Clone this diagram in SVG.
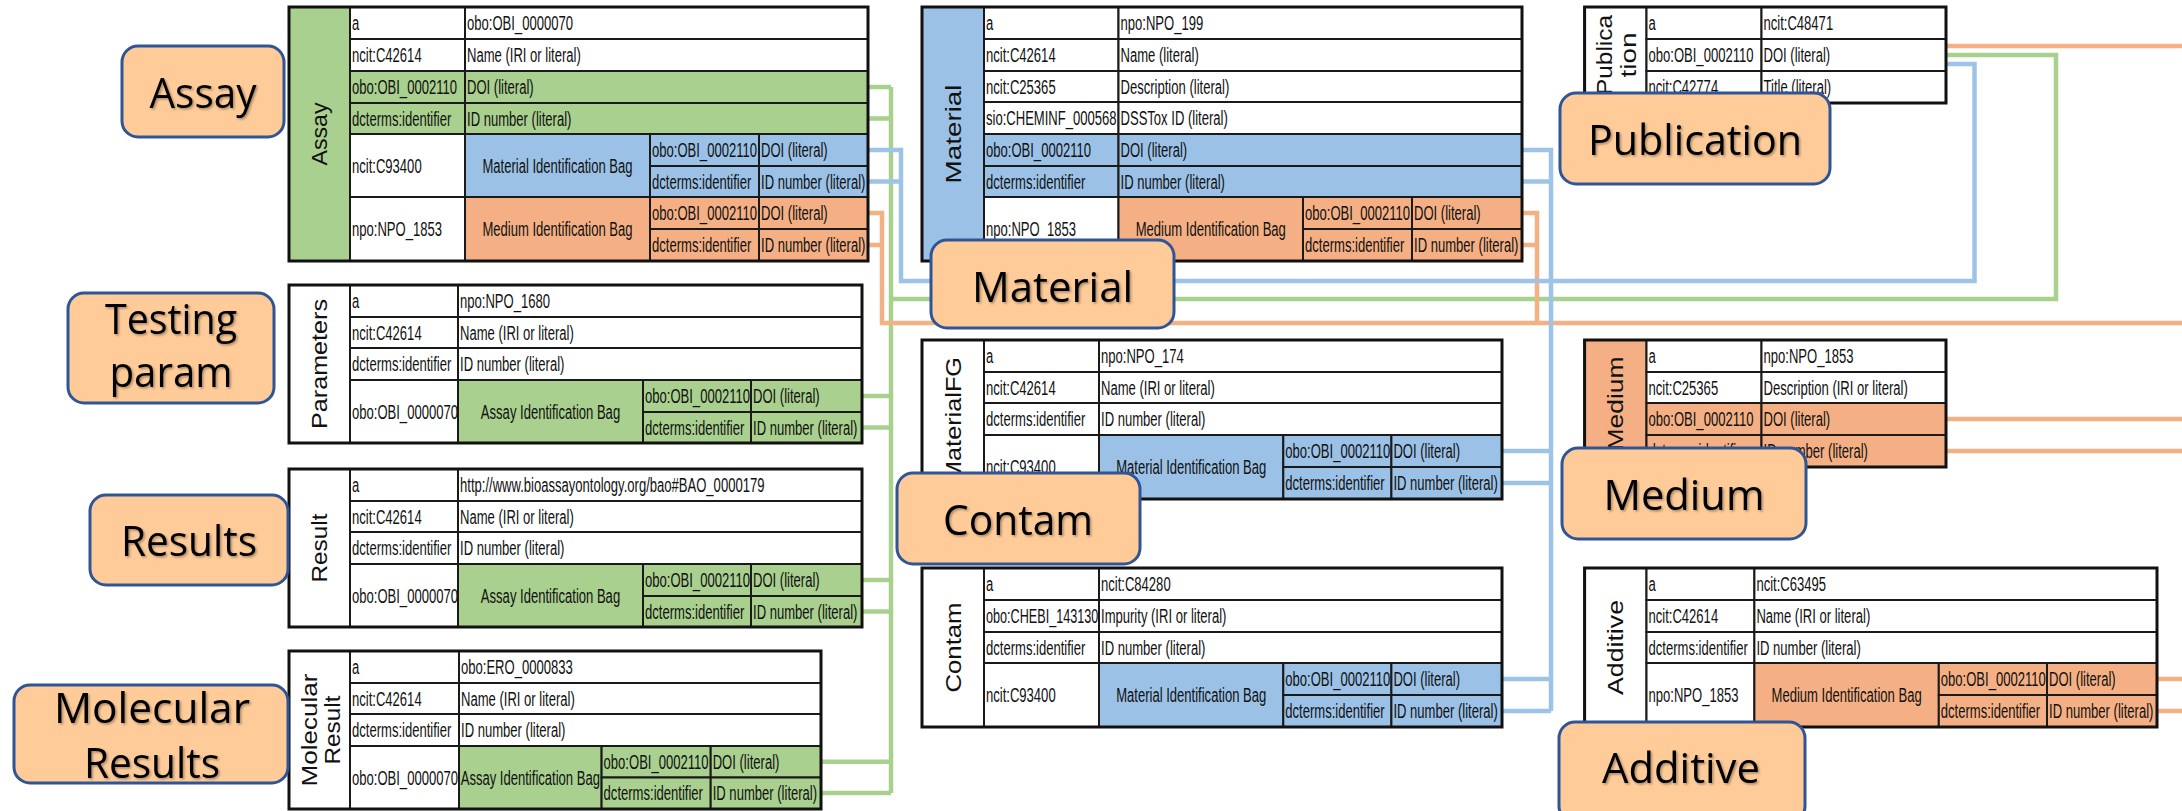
<svg xmlns="http://www.w3.org/2000/svg" width="2182" height="811" viewBox="0 0 2182 811">
<defs>
<filter id="sh" x="-5%" y="-10%" width="115%" height="130%">
<feDropShadow dx="1.5" dy="1.5" stdDeviation="1" flood-color="#000" flood-opacity=".35"/>
</filter>
<style>
.cell{stroke:#1a1a1a;stroke-width:2}
.w{fill:#fff}.g{fill:#A9D08E}.b{fill:#9BC2E6}.o{fill:#F4B084}
.frame{fill:none;stroke:#111;stroke-width:3}
.t{font-family:"Liberation Sans",Arial,sans-serif;font-size:20px;fill:#111}
.m{text-anchor:middle}
.v{font-family:"Liberation Sans",Arial,sans-serif;font-size:26px;text-anchor:middle;dominant-baseline:central;fill:#111}
.lbl rect{fill:#FFCC99;stroke:#2F5597;stroke-width:3}
.lbl text{font-family:"Open Sans","Noto Sans",sans-serif;font-size:42px;text-anchor:middle;fill:#000;filter:url(#sh)}
.wire{fill:none;stroke-width:4.5}
.wg{stroke:#A9D18E}.wb{stroke:#9DC3E6}.wo{stroke:#F4B183}
</style>
</defs>
<rect width="2182" height="811" fill="#fff"/>

<!-- identifier links between tables -->
<g id="connectors">
<path class="wire wg" d="M868 87H891M868 118.5H891M862 396H891M862 427.5H891M862 580H891M862 611.5H891M821 761.7H891M821 793H891M891 87V793M891 299H2056V55H1946"/>
<path class="wire wo" d="M868 213H882V323H2182M868 245H882M1522 213H1537V323M1522 245H1537M1946 46H2182M1946 419H2182M1946 451H2182M2157 679H2182M2157 711H2182"/>
<path class="wire wb" d="M868 150H901V281H1974.5V64H1946M868 181.5H901M1522 150H1551V711M1522 181.5H1551M1502 451H1551M1502 483H1551M1502 679H1551M1502 711H1551"/>
</g>

<!-- Assay -->
<g id="assay">
<rect class="cell g" x="289" y="7" width="61" height="254"/>
<rect class="cell w" x="350" y="7" width="115" height="32"/>
<rect class="cell w" x="465" y="7" width="403" height="32"/>
<rect class="cell w" x="350" y="39" width="115" height="32"/>
<rect class="cell w" x="465" y="39" width="403" height="32"/>
<rect class="cell g" x="350" y="71" width="115" height="32"/>
<rect class="cell g" x="465" y="71" width="403" height="32"/>
<rect class="cell g" x="350" y="103" width="115" height="31"/>
<rect class="cell g" x="465" y="103" width="403" height="31"/>
<rect class="cell w" x="350" y="134" width="115" height="63"/>
<rect class="cell b" x="465" y="134" width="185" height="63"/>
<rect class="cell b" x="650" y="134" width="109" height="32"/>
<rect class="cell b" x="759" y="134" width="109" height="32"/>
<rect class="cell b" x="650" y="166" width="109" height="31"/>
<rect class="cell b" x="759" y="166" width="109" height="31"/>
<rect class="cell w" x="350" y="197" width="115" height="64"/>
<rect class="cell o" x="465" y="197" width="185" height="64"/>
<rect class="cell o" x="650" y="197" width="109" height="32"/>
<rect class="cell o" x="759" y="197" width="109" height="32"/>
<rect class="cell o" x="650" y="229" width="109" height="32"/>
<rect class="cell o" x="759" y="229" width="109" height="32"/>
<rect class="frame" x="289" y="7" width="579" height="254"/>
<text class="v" transform="translate(319.5 134) scale(.85 1) rotate(-90)" textLength="63" lengthAdjust="spacingAndGlyphs">Assay</text>
<text class="t" transform="translate(352 30) scale(.653 1)">a</text>
<text class="t" transform="translate(467 30) scale(.653 1)">obo:OBI_0000070</text>
<text class="t" transform="translate(352 62) scale(.653 1)">ncit:C42614</text>
<text class="t" transform="translate(467 62) scale(.653 1)">Name (IRI or literal)</text>
<text class="t" transform="translate(352 94) scale(.653 1)">obo:OBI_0002110</text>
<text class="t" transform="translate(467 94) scale(.653 1)">DOI (literal)</text>
<text class="t" transform="translate(352 126) scale(.653 1)">dcterms:identifier</text>
<text class="t" transform="translate(467 126) scale(.653 1)">ID number (literal)</text>
<text class="t" transform="translate(352 172.5) scale(.653 1)">ncit:C93400</text>
<text class="t m" transform="translate(557.5 172.5) scale(.653 1)">Material Identification Bag</text>
<text class="t" transform="translate(652 157) scale(.653 1)">obo:OBI_0002110</text>
<text class="t" transform="translate(761 157) scale(.653 1)">DOI (literal)</text>
<text class="t" transform="translate(652 188.5) scale(.653 1)">dcterms:identifier</text>
<text class="t" transform="translate(761 188.5) scale(.653 1)">ID number (literal)</text>
<text class="t" transform="translate(352 236) scale(.653 1)">npo:NPO_1853</text>
<text class="t m" transform="translate(557.5 236) scale(.653 1)">Medium Identification Bag</text>
<text class="t" transform="translate(652 220) scale(.653 1)">obo:OBI_0002110</text>
<text class="t" transform="translate(761 220) scale(.653 1)">DOI (literal)</text>
<text class="t" transform="translate(652 252) scale(.653 1)">dcterms:identifier</text>
<text class="t" transform="translate(761 252) scale(.653 1)">ID number (literal)</text>
</g>

<!-- Parameters -->
<g id="parameters">
<rect class="cell w" x="289" y="285" width="61" height="158"/>
<rect class="cell w" x="350" y="285" width="108" height="32"/>
<rect class="cell w" x="458" y="285" width="404" height="32"/>
<rect class="cell w" x="350" y="317" width="108" height="31"/>
<rect class="cell w" x="458" y="317" width="404" height="31"/>
<rect class="cell w" x="350" y="348" width="108" height="32"/>
<rect class="cell w" x="458" y="348" width="404" height="32"/>
<rect class="cell w" x="350" y="380" width="108" height="63"/>
<rect class="cell g" x="458" y="380" width="185" height="63"/>
<rect class="cell g" x="643" y="380" width="108" height="32"/>
<rect class="cell g" x="751" y="380" width="111" height="32"/>
<rect class="cell g" x="643" y="412" width="108" height="31"/>
<rect class="cell g" x="751" y="412" width="111" height="31"/>
<rect class="frame" x="289" y="285" width="573" height="158"/>
<text class="v" transform="translate(319.5 364) scale(.85 1) rotate(-90)" textLength="130" lengthAdjust="spacingAndGlyphs">Parameters</text>
<text class="t" transform="translate(352 308) scale(.653 1)">a</text>
<text class="t" transform="translate(460 308) scale(.653 1)">npo:NPO_1680</text>
<text class="t" transform="translate(352 339.5) scale(.653 1)">ncit:C42614</text>
<text class="t" transform="translate(460 339.5) scale(.653 1)">Name (IRI or literal)</text>
<text class="t" transform="translate(352 371) scale(.653 1)">dcterms:identifier</text>
<text class="t" transform="translate(460 371) scale(.653 1)">ID number (literal)</text>
<text class="t" transform="translate(352 418.5) scale(.653 1)">obo:OBI_0000070</text>
<text class="t m" transform="translate(550.5 418.5) scale(.653 1)">Assay Identification Bag</text>
<text class="t" transform="translate(645 403) scale(.653 1)">obo:OBI_0002110</text>
<text class="t" transform="translate(753 403) scale(.653 1)">DOI (literal)</text>
<text class="t" transform="translate(645 434.5) scale(.653 1)">dcterms:identifier</text>
<text class="t" transform="translate(753 434.5) scale(.653 1)">ID number (literal)</text>
</g>

<!-- Result -->
<g id="result">
<rect class="cell w" x="289" y="469" width="61" height="158"/>
<rect class="cell w" x="350" y="469" width="108" height="32"/>
<rect class="cell w" x="458" y="469" width="404" height="32"/>
<rect class="cell w" x="350" y="501" width="108" height="31"/>
<rect class="cell w" x="458" y="501" width="404" height="31"/>
<rect class="cell w" x="350" y="532" width="108" height="32"/>
<rect class="cell w" x="458" y="532" width="404" height="32"/>
<rect class="cell w" x="350" y="564" width="108" height="63"/>
<rect class="cell g" x="458" y="564" width="185" height="63"/>
<rect class="cell g" x="643" y="564" width="108" height="32"/>
<rect class="cell g" x="751" y="564" width="111" height="32"/>
<rect class="cell g" x="643" y="596" width="108" height="31"/>
<rect class="cell g" x="751" y="596" width="111" height="31"/>
<rect class="frame" x="289" y="469" width="573" height="158"/>
<text class="v" transform="translate(319.5 548) scale(.85 1) rotate(-90)" textLength="69" lengthAdjust="spacingAndGlyphs">Result</text>
<text class="t" transform="translate(352 492) scale(.653 1)">a</text>
<text class="t" transform="translate(460 492) scale(.653 1)">http://www.bioassayontology.org/bao#BAO_0000179</text>
<text class="t" transform="translate(352 523.5) scale(.653 1)">ncit:C42614</text>
<text class="t" transform="translate(460 523.5) scale(.653 1)">Name (IRI or literal)</text>
<text class="t" transform="translate(352 555) scale(.653 1)">dcterms:identifier</text>
<text class="t" transform="translate(460 555) scale(.653 1)">ID number (literal)</text>
<text class="t" transform="translate(352 602.5) scale(.653 1)">obo:OBI_0000070</text>
<text class="t m" transform="translate(550.5 602.5) scale(.653 1)">Assay Identification Bag</text>
<text class="t" transform="translate(645 587) scale(.653 1)">obo:OBI_0002110</text>
<text class="t" transform="translate(753 587) scale(.653 1)">DOI (literal)</text>
<text class="t" transform="translate(645 618.5) scale(.653 1)">dcterms:identifier</text>
<text class="t" transform="translate(753 618.5) scale(.653 1)">ID number (literal)</text>
</g>

<!-- Molecular Result -->
<g id="molecular-result">
<rect class="cell w" x="289" y="651" width="61" height="158"/>
<rect class="cell w" x="350" y="651" width="109" height="32"/>
<rect class="cell w" x="459" y="651" width="362" height="32"/>
<rect class="cell w" x="350" y="683" width="109" height="31"/>
<rect class="cell w" x="459" y="683" width="362" height="31"/>
<rect class="cell w" x="350" y="714" width="109" height="32"/>
<rect class="cell w" x="459" y="714" width="362" height="32"/>
<rect class="cell w" x="350" y="746" width="109" height="63"/>
<rect class="cell g" x="459" y="746" width="142.6" height="63"/>
<rect class="cell g" x="601.6" y="746" width="109.1" height="31.5"/>
<rect class="cell g" x="710.7" y="746" width="110.3" height="31.5"/>
<rect class="cell g" x="601.6" y="777.5" width="109.1" height="31.5"/>
<rect class="cell g" x="710.7" y="777.5" width="110.3" height="31.5"/>
<rect class="frame" x="289" y="651" width="532" height="158"/>
<text class="v" transform="translate(309 730) scale(.85 1) rotate(-90)" textLength="113" lengthAdjust="spacingAndGlyphs">Molecular</text>
<text class="v" transform="translate(332 730) scale(.85 1) rotate(-90)" textLength="69" lengthAdjust="spacingAndGlyphs">Result</text>
<text class="t" transform="translate(352 674) scale(.653 1)">a</text>
<text class="t" transform="translate(461 674) scale(.653 1)">obo:ERO_0000833</text>
<text class="t" transform="translate(352 705.5) scale(.653 1)">ncit:C42614</text>
<text class="t" transform="translate(461 705.5) scale(.653 1)">Name (IRI or literal)</text>
<text class="t" transform="translate(352 737) scale(.653 1)">dcterms:identifier</text>
<text class="t" transform="translate(461 737) scale(.653 1)">ID number (literal)</text>
<text class="t" transform="translate(352 784.5) scale(.653 1)">obo:OBI_0000070</text>
<text class="t m" transform="translate(530.3 784.5) scale(.653 1)">Assay Identification Bag</text>
<text class="t" transform="translate(603.6 769) scale(.653 1)">obo:OBI_0002110</text>
<text class="t" transform="translate(712.7 769) scale(.653 1)">DOI (literal)</text>
<text class="t" transform="translate(603.6 800) scale(.653 1)">dcterms:identifier</text>
<text class="t" transform="translate(712.7 800) scale(.653 1)">ID number (literal)</text>
</g>

<!-- Material -->
<g id="material">
<rect class="cell b" x="922" y="7" width="62" height="254"/>
<rect class="cell w" x="984" y="7" width="134.5" height="32"/>
<rect class="cell w" x="1118.5" y="7" width="403.5" height="32"/>
<rect class="cell w" x="984" y="39" width="134.5" height="32"/>
<rect class="cell w" x="1118.5" y="39" width="403.5" height="32"/>
<rect class="cell w" x="984" y="71" width="134.5" height="31"/>
<rect class="cell w" x="1118.5" y="71" width="403.5" height="31"/>
<rect class="cell w" x="984" y="102" width="134.5" height="32"/>
<rect class="cell w" x="1118.5" y="102" width="403.5" height="32"/>
<rect class="cell b" x="984" y="134" width="134.5" height="32"/>
<rect class="cell b" x="1118.5" y="134" width="403.5" height="32"/>
<rect class="cell b" x="984" y="166" width="134.5" height="31"/>
<rect class="cell b" x="1118.5" y="166" width="403.5" height="31"/>
<rect class="cell w" x="984" y="197" width="134.5" height="64"/>
<rect class="cell o" x="1118.5" y="197" width="184.5" height="64"/>
<rect class="cell o" x="1303" y="197" width="109" height="32"/>
<rect class="cell o" x="1412" y="197" width="110" height="32"/>
<rect class="cell o" x="1303" y="229" width="109" height="32"/>
<rect class="cell o" x="1412" y="229" width="110" height="32"/>
<rect class="frame" x="922" y="7" width="600" height="254"/>
<text class="v" transform="translate(953 134) scale(.85 1) rotate(-90)" textLength="99" lengthAdjust="spacingAndGlyphs">Material</text>
<text class="t" transform="translate(986 30) scale(.653 1)">a</text>
<text class="t" transform="translate(1120.5 30) scale(.653 1)">npo:NPO_199</text>
<text class="t" transform="translate(986 62) scale(.653 1)">ncit:C42614</text>
<text class="t" transform="translate(1120.5 62) scale(.653 1)">Name (literal)</text>
<text class="t" transform="translate(986 93.5) scale(.653 1)">ncit:C25365</text>
<text class="t" transform="translate(1120.5 93.5) scale(.653 1)">Description (literal)</text>
<text class="t" transform="translate(986 125) scale(.653 1)">sio:CHEMINF_000568</text>
<text class="t" transform="translate(1120.5 125) scale(.653 1)">DSSTox ID (literal)</text>
<text class="t" transform="translate(986 157) scale(.653 1)">obo:OBI_0002110</text>
<text class="t" transform="translate(1120.5 157) scale(.653 1)">DOI (literal)</text>
<text class="t" transform="translate(986 188.5) scale(.653 1)">dcterms:identifier</text>
<text class="t" transform="translate(1120.5 188.5) scale(.653 1)">ID number (literal)</text>
<text class="t" transform="translate(986 236) scale(.653 1)">npo:NPO_1853</text>
<text class="t m" transform="translate(1210.8 236) scale(.653 1)">Medium Identification Bag</text>
<text class="t" transform="translate(1305 220) scale(.653 1)">obo:OBI_0002110</text>
<text class="t" transform="translate(1414 220) scale(.653 1)">DOI (literal)</text>
<text class="t" transform="translate(1305 252) scale(.653 1)">dcterms:identifier</text>
<text class="t" transform="translate(1414 252) scale(.653 1)">ID number (literal)</text>
</g>

<!-- Publication -->
<g id="publication">
<rect class="cell w" x="1584.6" y="7" width="61.9" height="96"/>
<rect class="cell w" x="1646.5" y="7" width="115" height="32"/>
<rect class="cell w" x="1761.5" y="7" width="184.5" height="32"/>
<rect class="cell w" x="1646.5" y="39" width="115" height="32"/>
<rect class="cell w" x="1761.5" y="39" width="184.5" height="32"/>
<rect class="cell w" x="1646.5" y="71" width="115" height="32"/>
<rect class="cell w" x="1761.5" y="71" width="184.5" height="32"/>
<rect class="frame" x="1584.6" y="7" width="361.4" height="96"/>
<text class="v" transform="translate(1604 55) scale(.85 1) rotate(-90)" textLength="80" lengthAdjust="spacingAndGlyphs">Publica</text>
<text class="v" transform="translate(1628 55) scale(.85 1) rotate(-90)" textLength="45" lengthAdjust="spacingAndGlyphs">tion</text>
<text class="t" transform="translate(1648.5 30) scale(.653 1)">a</text>
<text class="t" transform="translate(1763.5 30) scale(.653 1)">ncit:C48471</text>
<text class="t" transform="translate(1648.5 62) scale(.653 1)">obo:OBI_0002110</text>
<text class="t" transform="translate(1763.5 62) scale(.653 1)">DOI (literal)</text>
<text class="t" transform="translate(1648.5 94) scale(.653 1)">ncit:C42774</text>
<text class="t" transform="translate(1763.5 94) scale(.653 1)">Title (literal)</text>
</g>

<!-- MaterialFG -->
<g id="materialfg">
<rect class="cell w" x="922" y="340" width="62" height="159"/>
<rect class="cell w" x="984" y="340" width="115" height="32"/>
<rect class="cell w" x="1099" y="340" width="403" height="32"/>
<rect class="cell w" x="984" y="372" width="115" height="31"/>
<rect class="cell w" x="1099" y="372" width="403" height="31"/>
<rect class="cell w" x="984" y="403" width="115" height="32"/>
<rect class="cell w" x="1099" y="403" width="403" height="32"/>
<rect class="cell w" x="984" y="435" width="115" height="64"/>
<rect class="cell b" x="1099" y="435" width="184.3" height="64"/>
<rect class="cell b" x="1283.3" y="435" width="108.1" height="32"/>
<rect class="cell b" x="1391.4" y="435" width="110.6" height="32"/>
<rect class="cell b" x="1283.3" y="467" width="108.1" height="32"/>
<rect class="cell b" x="1391.4" y="467" width="110.6" height="32"/>
<rect class="frame" x="922" y="340" width="580" height="159"/>
<text class="v" transform="translate(953 419.5) scale(.85 1) rotate(-90)" textLength="125" lengthAdjust="spacingAndGlyphs">MaterialFG</text>
<text class="t" transform="translate(986 363) scale(.653 1)">a</text>
<text class="t" transform="translate(1101 363) scale(.653 1)">npo:NPO_174</text>
<text class="t" transform="translate(986 394.5) scale(.653 1)">ncit:C42614</text>
<text class="t" transform="translate(1101 394.5) scale(.653 1)">Name (IRI or literal)</text>
<text class="t" transform="translate(986 426) scale(.653 1)">dcterms:identifier</text>
<text class="t" transform="translate(1101 426) scale(.653 1)">ID number (literal)</text>
<text class="t" transform="translate(986 474) scale(.653 1)">ncit:C93400</text>
<text class="t m" transform="translate(1191.2 474) scale(.653 1)">Material Identification Bag</text>
<text class="t" transform="translate(1285.3 458) scale(.653 1)">obo:OBI_0002110</text>
<text class="t" transform="translate(1393.4 458) scale(.653 1)">DOI (literal)</text>
<text class="t" transform="translate(1285.3 490) scale(.653 1)">dcterms:identifier</text>
<text class="t" transform="translate(1393.4 490) scale(.653 1)">ID number (literal)</text>
</g>

<!-- Contam -->
<g id="contam">
<rect class="cell w" x="922" y="568" width="62" height="159"/>
<rect class="cell w" x="984" y="568" width="115" height="32"/>
<rect class="cell w" x="1099" y="568" width="403" height="32"/>
<rect class="cell w" x="984" y="600" width="115" height="32"/>
<rect class="cell w" x="1099" y="600" width="403" height="32"/>
<rect class="cell w" x="984" y="632" width="115" height="31"/>
<rect class="cell w" x="1099" y="632" width="403" height="31"/>
<rect class="cell w" x="984" y="663" width="115" height="64"/>
<rect class="cell b" x="1099" y="663" width="184.3" height="64"/>
<rect class="cell b" x="1283.3" y="663" width="108.1" height="32"/>
<rect class="cell b" x="1391.4" y="663" width="110.6" height="32"/>
<rect class="cell b" x="1283.3" y="695" width="108.1" height="32"/>
<rect class="cell b" x="1391.4" y="695" width="110.6" height="32"/>
<rect class="frame" x="922" y="568" width="580" height="159"/>
<text class="v" transform="translate(953 647.5) scale(.85 1) rotate(-90)" textLength="90" lengthAdjust="spacingAndGlyphs">Contam</text>
<text class="t" transform="translate(986 591) scale(.653 1)">a</text>
<text class="t" transform="translate(1101 591) scale(.653 1)">ncit:C84280</text>
<text class="t" transform="translate(986 623) scale(.653 1)" textLength="172" lengthAdjust="spacingAndGlyphs">obo:CHEBI_143130</text>
<text class="t" transform="translate(1101 623) scale(.653 1)">Impurity (IRI or literal)</text>
<text class="t" transform="translate(986 654.5) scale(.653 1)">dcterms:identifier</text>
<text class="t" transform="translate(1101 654.5) scale(.653 1)">ID number (literal)</text>
<text class="t" transform="translate(986 702) scale(.653 1)">ncit:C93400</text>
<text class="t m" transform="translate(1191.2 702) scale(.653 1)">Material Identification Bag</text>
<text class="t" transform="translate(1285.3 686) scale(.653 1)">obo:OBI_0002110</text>
<text class="t" transform="translate(1393.4 686) scale(.653 1)">DOI (literal)</text>
<text class="t" transform="translate(1285.3 718) scale(.653 1)">dcterms:identifier</text>
<text class="t" transform="translate(1393.4 718) scale(.653 1)">ID number (literal)</text>
</g>

<!-- Medium -->
<g id="medium">
<rect class="cell o" x="1584.6" y="340" width="61.9" height="127"/>
<rect class="cell w" x="1646.5" y="340" width="115" height="32"/>
<rect class="cell w" x="1761.5" y="340" width="184.5" height="32"/>
<rect class="cell w" x="1646.5" y="372" width="115" height="31"/>
<rect class="cell w" x="1761.5" y="372" width="184.5" height="31"/>
<rect class="cell o" x="1646.5" y="403" width="115" height="32"/>
<rect class="cell o" x="1761.5" y="403" width="184.5" height="32"/>
<rect class="cell o" x="1646.5" y="435" width="115" height="32"/>
<rect class="cell o" x="1761.5" y="435" width="184.5" height="32"/>
<rect class="frame" x="1584.6" y="340" width="361.4" height="127"/>
<text class="v" transform="translate(1615.5 403.5) scale(.85 1) rotate(-90)" textLength="94" lengthAdjust="spacingAndGlyphs">Medium</text>
<text class="t" transform="translate(1648.5 363) scale(.653 1)">a</text>
<text class="t" transform="translate(1763.5 363) scale(.653 1)">npo:NPO_1853</text>
<text class="t" transform="translate(1648.5 394.5) scale(.653 1)">ncit:C25365</text>
<text class="t" transform="translate(1763.5 394.5) scale(.653 1)">Description (IRI or literal)</text>
<text class="t" transform="translate(1648.5 426) scale(.653 1)">obo:OBI_0002110</text>
<text class="t" transform="translate(1763.5 426) scale(.653 1)">DOI (literal)</text>
<text class="t" transform="translate(1648.5 458) scale(.653 1)">dcterms:identifier</text>
<text class="t" transform="translate(1763.5 458) scale(.653 1)">ID number (literal)</text>
</g>

<!-- Additive -->
<g id="additive">
<rect class="cell w" x="1584.6" y="568" width="61.9" height="159"/>
<rect class="cell w" x="1646.5" y="568" width="107.9" height="32"/>
<rect class="cell w" x="1754.4" y="568" width="402.6" height="32"/>
<rect class="cell w" x="1646.5" y="600" width="107.9" height="32"/>
<rect class="cell w" x="1754.4" y="600" width="402.6" height="32"/>
<rect class="cell w" x="1646.5" y="632" width="107.9" height="31"/>
<rect class="cell w" x="1754.4" y="632" width="402.6" height="31"/>
<rect class="cell w" x="1646.5" y="663" width="107.9" height="64"/>
<rect class="cell o" x="1754.4" y="663" width="184.4" height="64"/>
<rect class="cell o" x="1938.8" y="663" width="108.2" height="32"/>
<rect class="cell o" x="2047" y="663" width="110" height="32"/>
<rect class="cell o" x="1938.8" y="695" width="108.2" height="32"/>
<rect class="cell o" x="2047" y="695" width="110" height="32"/>
<rect class="frame" x="1584.6" y="568" width="572.4" height="159"/>
<text class="v" transform="translate(1615.5 647.5) scale(.85 1) rotate(-90)" textLength="95" lengthAdjust="spacingAndGlyphs">Additive</text>
<text class="t" transform="translate(1648.5 591) scale(.653 1)">a</text>
<text class="t" transform="translate(1756.4 591) scale(.653 1)">ncit:C63495</text>
<text class="t" transform="translate(1648.5 623) scale(.653 1)">ncit:C42614</text>
<text class="t" transform="translate(1756.4 623) scale(.653 1)">Name (IRI or literal)</text>
<text class="t" transform="translate(1648.5 654.5) scale(.653 1)">dcterms:identifier</text>
<text class="t" transform="translate(1756.4 654.5) scale(.653 1)">ID number (literal)</text>
<text class="t" transform="translate(1648.5 702) scale(.653 1)">npo:NPO_1853</text>
<text class="t m" transform="translate(1846.6 702) scale(.653 1)">Medium Identification Bag</text>
<text class="t" transform="translate(1940.8 686) scale(.653 1)">obo:OBI_0002110</text>
<text class="t" transform="translate(2049 686) scale(.653 1)">DOI (literal)</text>
<text class="t" transform="translate(1940.8 718) scale(.653 1)">dcterms:identifier</text>
<text class="t" transform="translate(2049 718) scale(.653 1)">ID number (literal)</text>
</g>

<!-- callout labels -->
<g id="label-assay" class="lbl"><rect x="122" y="46" width="162" height="91" rx="16"/><text x="203" y="108" textLength="107" lengthAdjust="spacingAndGlyphs">Assay</text></g>
<g id="label-testing" class="lbl"><rect x="68" y="293" width="206" height="110" rx="16"/><text x="171" y="334" textLength="132" lengthAdjust="spacingAndGlyphs">Testing</text><text x="171" y="387" textLength="123" lengthAdjust="spacingAndGlyphs">param</text></g>
<g id="label-results" class="lbl"><rect x="90" y="495" width="198" height="90" rx="16"/><text x="189" y="556" textLength="136" lengthAdjust="spacingAndGlyphs">Results</text></g>
<g id="label-molecular" class="lbl"><rect x="14" y="685" width="274" height="98" rx="16"/><text x="152" y="723" textLength="196" lengthAdjust="spacingAndGlyphs">Molecular</text><text x="152" y="778" textLength="136" lengthAdjust="spacingAndGlyphs">Results</text></g>
<g id="label-material" class="lbl"><rect x="931" y="240" width="243" height="88" rx="16"/><text x="1052.5" y="302" textLength="161" lengthAdjust="spacingAndGlyphs">Material</text></g>
<g id="label-publication" class="lbl"><rect x="1560" y="93" width="270" height="91" rx="16"/><text x="1695" y="155" textLength="214" lengthAdjust="spacingAndGlyphs">Publication</text></g>
<g id="label-contam" class="lbl"><rect x="897" y="473" width="243" height="91" rx="16"/><text x="1018" y="535" textLength="150" lengthAdjust="spacingAndGlyphs">Contam</text></g>
<g id="label-medium" class="lbl"><rect x="1562" y="448" width="244" height="91" rx="16"/><text x="1684" y="510" textLength="161" lengthAdjust="spacingAndGlyphs">Medium</text></g>
<g id="label-additive" class="lbl"><rect x="1559" y="722" width="246" height="100" rx="16"/><text x="1681" y="783" textLength="158" lengthAdjust="spacingAndGlyphs">Additive</text></g>
</svg>
